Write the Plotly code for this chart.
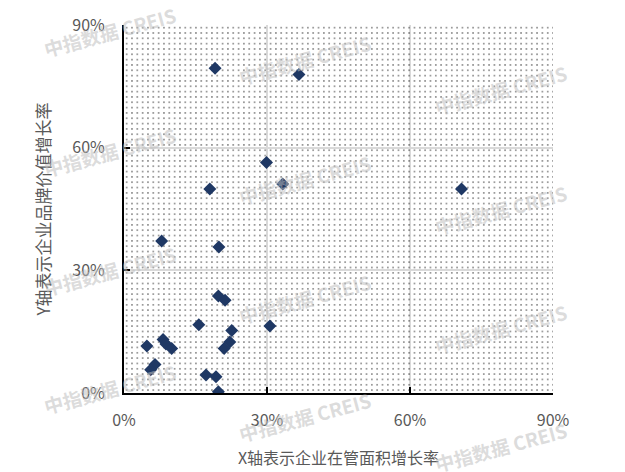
import plotly.graph_objects as go

# Data (percent values)
area_growth = [19.1, 36.7, 29.9, 33.3, 18.0, 70.8, 7.9, 19.9, 19.8, 21.2, 15.7, 22.6,
               30.6, 8.2, 8.8, 10.0, 4.8, 22.2, 21.0, 6.5, 5.6, 17.2, 19.3, 19.8]
brand_growth = [79.4, 77.9, 56.4, 51.1, 49.9, 49.9, 37.2, 35.7, 23.7, 22.7, 16.7, 15.3,
                16.4, 13.1, 12.0, 10.9, 11.5, 12.5, 10.9, 7.0, 5.7, 4.4, 4.0, 0.3]
tick_vals = [0, 0.3, 0.6, 0.9]
tick_text = ["0%", "30%", "60%", "90%"]
x_title = "X轴表示企业在管面积增长率"
y_title = "Y轴表示企业品牌价值增长率"
watermark = "中指数据 CREIS"
axis_min, axis_max = 0, 0.9

xs = [v / 100 for v in area_growth]
ys = [v / 100 for v in brand_growth]

fig = go.Figure()

# dotted background pattern covering the axis range
fig.add_trace(go.Scatter(
    x=[axis_min, axis_max, axis_max, axis_min, axis_min],
    y=[axis_min, axis_min, axis_max, axis_max, axis_min],
    mode="lines", fill="toself", line=dict(width=0),
    fillcolor="rgba(0,0,0,0)",
    fillpattern=dict(shape=".", size=5.33, solidity=0.045, fgcolor="black",
                     bgcolor="rgba(0,0,0,0)", fillmode="replace"),
    hoverinfo="skip", showlegend=False,
))

fig.add_trace(go.Scatter(
    x=xs, y=ys, mode="markers",
    marker=dict(symbol="diamond", size=10, color="#1f3864"),
    showlegend=False,
))

font_family = "Noto Sans CJK SC, Noto Sans, DejaVu Sans, sans-serif"

fig.update_xaxes(
    range=[axis_min, axis_max], tickvals=tick_vals, ticktext=tick_text,
    showgrid=True, gridcolor="#d9d9d9", gridwidth=1.5,
    showline=True, linecolor="black", linewidth=2,
    ticks="inside", ticklen=6, tickwidth=2, tickcolor="black",
    tickfont=dict(size=16, color="#595959", family=font_family),
    ticklabelstandoff=12, zeroline=False, ticklabeloverflow="allow",
    title=dict(text=x_title, font=dict(size=16, color="#595959", family=font_family), standoff=23),
)
fig.update_yaxes(
    range=[axis_min, axis_max], tickvals=tick_vals, ticktext=tick_text,
    showgrid=True, gridcolor="#d9d9d9", gridwidth=1.5,
    showline=True, linecolor="black", linewidth=2,
    ticks="inside", ticklen=6, tickwidth=2, tickcolor="black",
    tickfont=dict(size=16, color="#595959", family=font_family),
    ticklabelstandoff=14, zeroline=False, ticklabeloverflow="allow",
    title=dict(text=y_title, font=dict(size=17, color="#595959", family=font_family), standoff=17),
)

# page body adds an 8px offset; compensate
OFF = 8
W, H = 625 - OFF, 472 - OFF
ml, mr, mt, mb = 124 - OFF, 72, 12 - OFF, 79

# watermark grid (screen pixel positions in the reference)
wm_cols = [110, 305, 501]
wm_rows = [19, 143, 266, 388]
wm_col_shift = [0, 29, 60]
for ci, cx in enumerate(wm_cols):
    for ry in wm_rows:
        cy = ry + wm_col_shift[ci]
        fig.add_annotation(
            x=(cx - OFF - ml) / (W - ml - mr), y=1 - (cy - OFF - mt) / (H - mt - mb),
            xref="paper", yref="paper", text="<b>" + watermark + "</b>",
            xanchor="center", yanchor="middle",
            showarrow=False, textangle=-15,
            font=dict(size=19, color="rgba(190,190,190,0.55)", family=font_family),
        )

fig.update_layout(
    width=W, height=H,
    margin=dict(l=ml, r=mr, t=mt, b=mb),
    plot_bgcolor="white", paper_bgcolor="white",
    showlegend=False,
)

fig.write_html("out.html")
